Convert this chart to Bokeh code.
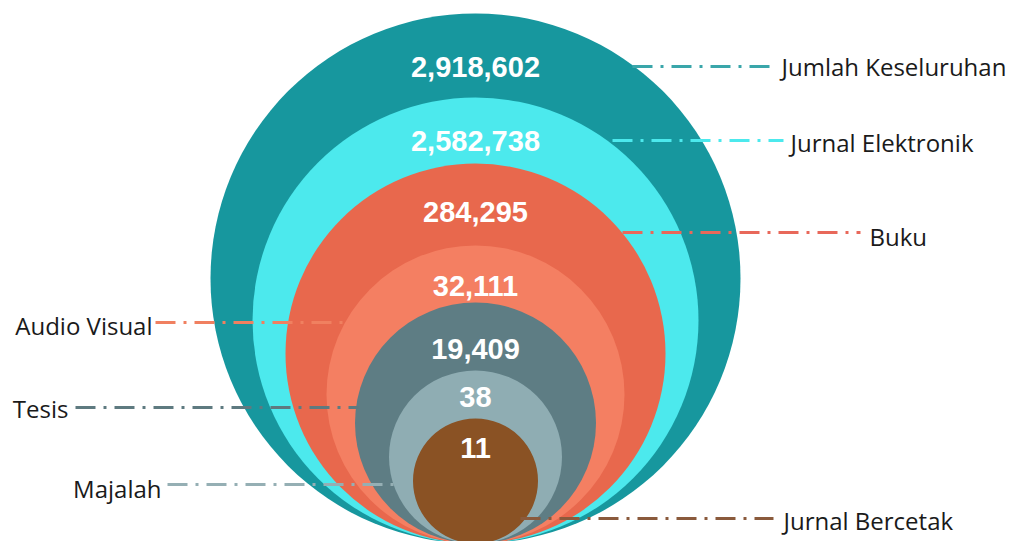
from bokeh.plotting import figure
from bokeh.models import Range1d, ColumnDataSource
from bokeh.core.properties import value
from bokeh.embed import file_html
from bokeh.resources import INLINE

# ---- data ----
categories = ["Jumlah Keseluruhan", "Jurnal Elektronik", "Buku", "Audio Visual",
              "Tesis", "Majalah", "Jurnal Bercetak"]
counts = [2918602, 2582738, 284295, 32111, 19409, 38, 11]
value_labels = [f"{v:,}" for v in counts]

# ---- layout (pixel-like coordinates, y grows downward) ----
colors = ["#17979e", "#4ce9ed", "#e8684d", "#f47f62", "#5e7d84", "#8fadb3", "#8a5224"]
line_colors = ["#3aa6aa", "#4ce9ed", "#e8685a", "#f08060", "#5e7a80", "#95afb4", "#8a5a3c"]
radii = [265, 223, 190, 149, 120.5, 86.5, 62.5]
center_x = 475
bottom_y = 543
value_y = [66, 140, 211, 285, 348, 396, 447]

line_x0 = [632, 612, 622, 155, 75, 167, 520]
line_x1 = [773, 783, 860, 345, 358, 396, 773]
line_y = [66, 140, 232, 322, 407, 484, 518]
label_x = [781, 790, 869, 152, 68, 161, 783]
label_y = [66, 142, 236, 325, 408, 488, 520]
label_align = ["left", "left", "left", "right", "right", "right", "left"]

W, H = 1011, 541
p = figure(width=W, height=H, output_backend="svg", toolbar_location=None,
           x_range=Range1d(0, W), y_range=Range1d(H, 0),
           min_border=0, outline_line_color=None)
p.axis.visible = False
p.xgrid.visible = False
p.ygrid.visible = False
p.background_fill_color = "white"
p.border_fill_color = "white"

circ = ColumnDataSource(dict(
    x=[center_x] * len(radii),
    y=[bottom_y - r for r in radii],
    r=radii,
    c=colors,
))
p.circle(x="x", y="y", radius="r", fill_color="c", line_color=None, source=circ)

lines = ColumnDataSource(dict(x0=line_x0, x1=line_x1, y=line_y, c=line_colors))
p.segment(x0="x0", y0="y", x1="x1", y1="y", line_color="c", line_width=3,
          line_dash="20 8 3 8", source=lines)

vals = ColumnDataSource(dict(x=[center_x] * len(value_labels), y=value_y, t=value_labels))
p.text(x="x", y="y", text="t", source=vals, text_color="white",
       text_font=value("Liberation Sans"), text_font_style="bold",
       text_font_size="29px", text_align="center", text_baseline="middle")

labs = ColumnDataSource(dict(x=label_x, y=label_y, t=categories, a=label_align))
p.text(x="x", y="y", text="t", source=labs, text_color="#1a1a1a",
       text_font=value("Open Sans"), text_font_size="24px",
       text_align="a", text_baseline="middle")

open("out.html", "w").write(file_html(p, INLINE))
